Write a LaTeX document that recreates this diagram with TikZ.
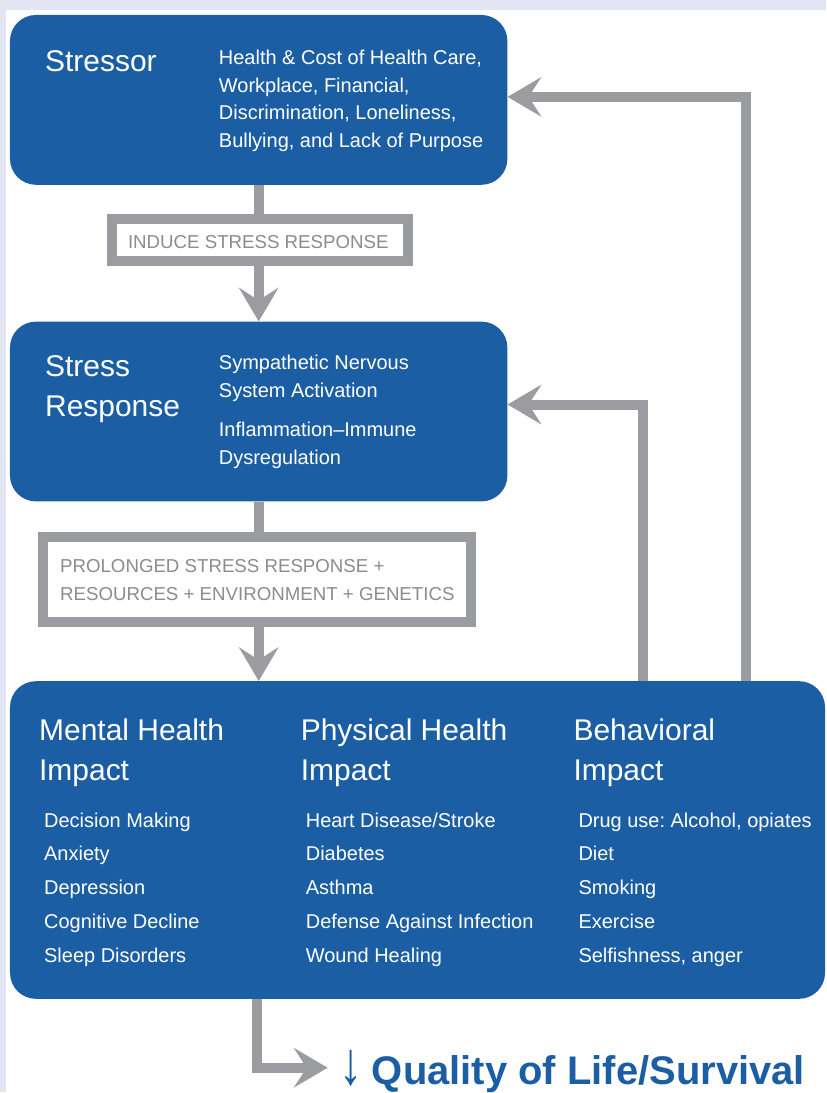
\documentclass[tikz,border=0pt]{standalone}
\usepackage{fontspec}
\usepackage{graphicx}
\setmainfont{Liberation Sans}
\usetikzlibrary{arrows.meta}
\definecolor{boxblue}{HTML}{1B5EA3}
\definecolor{linkgray}{HTML}{9B9C9F}
\definecolor{labelgray}{HTML}{8C8C8C}
\definecolor{framebg}{HTML}{E3E5F2}
\frenchspacing
\begin{document}
\begin{tikzpicture}[x=1pt,y=-1pt,
  stage/.style={draw=none, fill=boxblue, rounded corners=26pt, inner sep=0pt},
  gate/.style={draw=linkgray, line width=10pt, fill=white, inner sep=0pt},
  link/.style={draw=linkgray, line width=10pt},
  tip/.style={-{Stealth[length=34pt,width=40pt,inset=13pt,line width=0pt]}},
  head/.style={anchor=base west, text=white, font=\fontsize{30}{36}\selectfont, inner sep=0pt},
  item/.style={anchor=base west, text=white, font=\fontsize{20}{24}\selectfont, inner sep=0pt},
  gatetext/.style={anchor=base west, text=labelgray, font=\fontsize{18.7}{22}\selectfont, inner sep=0pt},
]
% page background and frame
\fill[framebg] (0,0) rectangle (827,1093);
\fill[white] (6,10) rectangle (827,1093);

% stages
\node[stage, minimum width=498pt, minimum height=170pt] (stressor) at (259,100) {};
\node[stage, minimum width=498pt, minimum height=180pt] (response) at (259,412) {};
\node[stage, minimum width=816pt, minimum height=318pt] (impact) at (418,841) {};

% gates between stages
\node[gate, minimum width=296pt, minimum height=42pt] (induce) at (260,240) {};
\node[gate, minimum width=429pt, minimum height=85pt] (prolong) at (257.5,580.5) {};

% forward links
\draw[link] (stressor.south) -- (stressor.south |- induce.north);
\draw[link, tip] (stressor.south |- induce.south) -- (response.north);
\draw[link] (response.south) -- (response.south |- prolong.north);
\draw[link, tip] (response.south |- prolong.south) -- (impact.north -| response.south);

% feedback links
\coordinate (fbouter) at (747,97);
\coordinate (fbinner) at (644,405);
\draw[link, tip] (impact.north -| fbouter) |- (stressor.east |- fbouter);
\draw[link, tip] (impact.north -| fbinner) |- (response.east |- fbinner);

% outcome link
\coordinate (qbend) at (257,1069);
\coordinate (qtip) at (328,1069);
\draw[link, tip] (impact.south -| qbend) -- (qbend) -- (qtip);

% stressor text
\node[head] (stressorhead) at (45,72) {Stressor};
\foreach \t [count=\i] in {{Health \& Cost of Health Care,}, {Workplace, Financial,}, {Discrimination, Loneliness,}, {Bullying, and Lack of Purpose}}
  \node[item] (stressor\i) at (219,{65+27.5*(\i-1)}) {\t};

% stress response text
\node[head] (responsehead1) at (45,377) {Stress};
\node[head] (responsehead2) at (45,417) {Response};
\node[item] (response1) at (219,370) {Sympathetic Nervous};
\node[item] (response2) at (219,398) {System Activation};
\node[item] (response3) at (219,437) {Inflammation\textendash Immune};
\node[item] (response4) at (219,465) {Dysregulation};

% gate labels
\node[gatetext] (inducetext) at (128,249) {INDUCE STRESS RESPONSE};
\node[gatetext] (prolongtext1) at (60,573) {PROLONGED STRESS RESPONSE +};
\node[gatetext] (prolongtext2) at (60,601) {RESOURCES + ENVIRONMENT + GENETICS};

% impact columns
\node[head] (mentalhead1) at (39,741) {Mental Health};
\node[head] (mentalhead2) at (39,781) {Impact};
\node[head] (physicalhead1) at (301,741) {Physical Health};
\node[head] (physicalhead2) at (301,781) {Impact};
\node[head] (behavhead1) at (574,741) {Behavioral};
\node[head] (behavhead2) at (574,781) {Impact};
\foreach \t [count=\i] in {Decision Making, Anxiety, Depression, Cognitive Decline, Sleep Disorders}
  \node[item] (mental\i) at (44,{828+34*(\i-1)}) {\t};
\foreach \t [count=\i] in {Heart Disease/Stroke, Diabetes, Asthma, Defense Against Infection, Wound Healing}
  \node[item] (physical\i) at (306,{828+34*(\i-1)}) {\t};
\foreach \t [count=\i] in {{Drug use: Alcohol, opiates}, Diet, Smoking, Exercise, {Selfishness, anger}}
  \node[item] (behav\i) at (579,{828+34*(\i-1)}) {\t};

% outcome
\node[anchor=base west, inner sep=0pt, text=boxblue, font=\fontsize{40}{48}\selectfont\bfseries] (qol) at (340,1086)
  {\scalebox{0.8}[1.05]{\fontsize{58}{60}\selectfont ↓}\hspace{9pt}Quality of Life/Survival};
\end{tikzpicture}
\end{document}
